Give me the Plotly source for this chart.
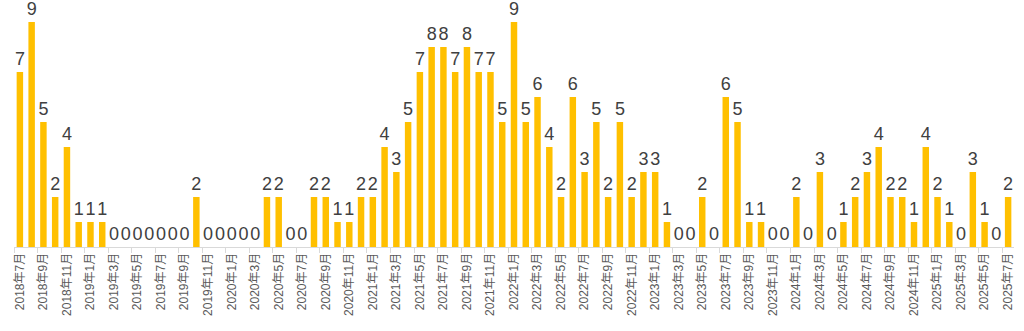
import plotly.graph_objects as go

start_year, start_month = 2018, 7
values = [7, 9, 5, 2, 4, 1, 1, 1,
          0, 0, 0, 0, 0, 0, 0, 2, 0, 0, 0, 0, 0,
          2, 2, 0, 0, 2, 2, 1, 1, 2, 2, 4, 3, 5, 7, 8, 8, 7, 8, 7, 7, 5,
          9, 5, 6, 4, 2, 6, 3, 5, 2, 5, 2, 3, 3, 1, 0, 0, 2, 0, 6, 5, 1, 1,
          0, 0, 2, 0, 3, 0, 1, 2, 3, 4, 2, 2, 1, 4, 2, 1, 0, 3, 1, 0, 2]

months = []
y, m = start_year, start_month
for _ in values:
    months.append(f"{y}年{m}月")
    m += 1
    if m > 12:
        m = 1
        y += 1

fig = go.Figure(go.Bar(
    x=months, y=values,
    marker=dict(color="#FFC000", line=dict(width=0)),
    text=[str(v) for v in values],
    textposition="outside",
    constraintext="none",
    cliponaxis=False,
    textfont=dict(size=18, color="#404040", family="Liberation Sans, Arial, sans-serif"),
))

fig.update_layout(
    width=1024, height=331,
    margin=dict(l=14, r=10, t=22, b=84),
    paper_bgcolor="white", plot_bgcolor="white",
    bargap=0.45,
    showlegend=False,
    font=dict(family="Liberation Sans, Noto Sans CJK JP, sans-serif"),
)
fig.update_xaxes(
    type="category",
    tickmode="linear", tick0=0, dtick=2,
    tickson="boundaries",
    ticks="outside", ticklen=5, tickcolor="#D9D9D9", tickwidth=1,
    showline=True, linecolor="#D9D9D9", linewidth=1,
    showgrid=False,
    tickangle=-90,
    tickfont=dict(size=12, color="#595959", family="Liberation Sans, Noto Sans CJK JP, sans-serif"),
)
fig.update_yaxes(range=[0, 9], visible=False, showgrid=False, zeroline=False)

fig.write_html("out.html")
